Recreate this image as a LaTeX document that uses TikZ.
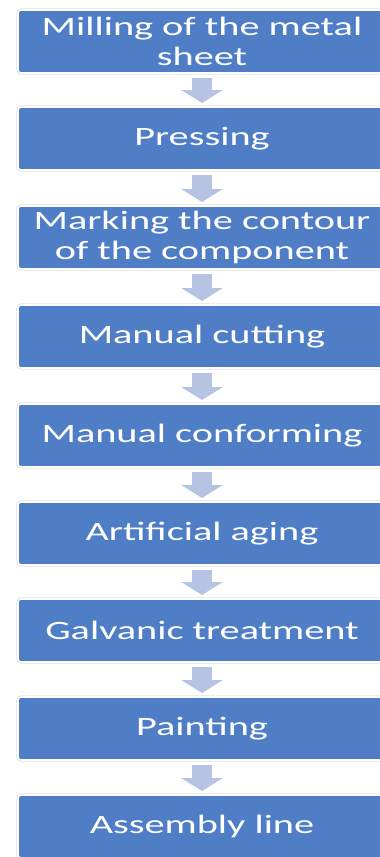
\documentclass[tikz,border=0pt]{standalone}
\usepackage{fontspec}
\newfontfamily\stepfont[FakeStretch=1.52]{Carlito}
\usetikzlibrary{arrows.meta}

\definecolor{stepblue}{RGB}{79,126,199}
\definecolor{arrowblue}{RGB}{182,195,226}
\definecolor{rimgray}{RGB}{200,200,200}

\tikzset{
  stepbox/.style={anchor=north west, rectangle, rounded corners=3pt,
    fill=stepblue, draw=white, line width=1.6pt,
    preaction={draw=rimgray, line width=2.6pt},
    minimum width=368pt, minimum height=63pt, outer sep=0pt,
    text=white, align=center, inner sep=0pt,
    font=\stepfont\fontsize{26.5}{30}\selectfont},
  flowarrow/.style={arrowblue, line width=20pt,
    -{Triangle[length=13pt,width=41pt]}}
}

\begin{document}
\begin{tikzpicture}[x=1pt, y=1pt]

% Page frame
\useasboundingbox (0,0) rectangle (380,-857);
\clip (0,0) rectangle (380,-857);

% Process steps, top to bottom
\node[stepbox] (s1) at (18,-10)  {Milling of the metal\\sheet};
\node[stepbox] (s2) at (18,-107) {Pressing};
\node[stepbox] (s3) at (18,-206) {Marking the contour\\of the component};
\node[stepbox] (s4) at (18,-305) {Manual cutting};
\node[stepbox] (s5) at (18,-404) {Manual conforming};
\node[stepbox] (s6) at (18,-502) {Artificial aging};
\node[stepbox] (s7) at (18,-599) {Galvanic treatment};
\node[stepbox] (s8) at (18,-697) {Painting};
\node[stepbox] (s9) at (18,-795) {Assembly line};

% Arrows between steps
\foreach \a/\b in {s1/s2, s2/s3, s3/s4, s4/s5, s5/s6, s6/s7, s7/s8, s8/s9}
  \draw[flowarrow] ([yshift=-5pt]\a.south) -- ([yshift=4pt]\b.north);

\end{tikzpicture}
\end{document}
